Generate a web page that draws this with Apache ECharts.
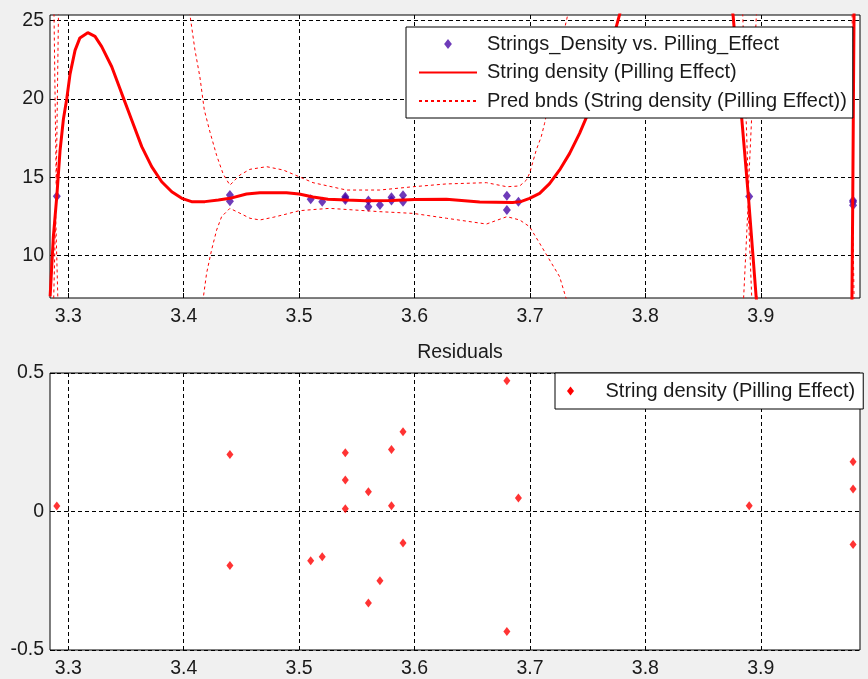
<!DOCTYPE html>
<html lang="en">
<head>
    <meta charset="UTF-8">
    <title>String density fit</title>
    <style>
        body {
            margin: 0;
            background-color: #f0f0f0;
        }

        #chart {
            width: 868px;
            height: 679px;
        }
    </style>
</head>
<body>

    <div id="chart"></div>

    <script src="https://cdn.jsdelivr.net/npm/echarts@6.0.0/dist/echarts.min.js"></script>
    <script>

        // tick positions
        const xTicks = [3.3, 3.4, 3.5, 3.6, 3.7, 3.8, 3.9];
        const yTicksFit = [10, 15, 20, 25];
        const yTicksRes = [-0.5, 0, 0.5];

        // measured data: Strings_Density vs. Pilling_Effect
        const dataX = [3.29, 3.44, 3.44, 3.51, 3.52, 3.54, 3.54, 3.54, 3.56, 3.56, 3.57,
            3.58, 3.58, 3.59, 3.59, 3.68, 3.68, 3.69, 3.89, 3.98, 3.98, 3.98];
        const dataY = [13.79, 13.87, 13.47, 13.6, 13.45, 13.76, 13.66, 13.56, 13.52, 13.12, 13.24,
            13.73, 13.53, 13.85, 13.45, 13.82, 12.92, 13.45, 13.77, 13.52, 13.42, 13.22];

        // residuals (same x as data)
        const residY = [0.02, 0.206, -0.195, -0.178, -0.163, 0.212, 0.114, 0.01, 0.071, -0.33, -0.25,
            0.224, 0.021, 0.288, -0.114, 0.472, -0.433, 0.049, 0.021, 0.18, 0.081, -0.119];

        // fitted curve (values beyond the axes are clipped)
        const fitX = [3.2842, 3.2870, 3.2900, 3.2928, 3.2957, 3.2986, 3.3015, 3.3058, 3.3100, 3.3168,
            3.3231, 3.3289, 3.3376, 3.3462, 3.3549, 3.3636, 3.3722, 3.3809, 3.3896, 3.3983,
            3.4068, 3.4184, 3.4300, 3.4400, 3.4544, 3.4660, 3.4890, 3.5000, 3.5120, 3.5250,
            3.5410, 3.5580, 3.5800, 3.6000, 3.6276, 3.6565, 3.6850, 3.6920, 3.6997, 3.7084,
            3.7170, 3.7257, 3.7344, 3.7430, 3.7517, 3.7600, 3.7700, 3.7777, 3.7900, 3.8000,
            3.8400, 3.8650, 3.8760, 3.8837, 3.8893, 3.8960, 3.9050, 3.9500, 3.9750, 3.9790,
            3.9797, 3.9803, 3.9810, 3.9870];
        const fitY = [7.4, 11.2, 13.8, 16.7, 18.7, 20.0, 21.6, 23.1, 23.9, 24.23,
            24.0, 23.34, 22.06, 20.36, 18.66, 16.96, 15.68, 14.72, 14.08, 13.66,
            13.45, 13.45, 13.55, 13.66, 13.94, 14.02, 14.02, 13.94, 13.75, 13.6,
            13.55, 13.5, 13.52, 13.58, 13.6, 13.42, 13.4, 13.45, 13.66, 13.98,
            14.6, 15.47, 16.53, 17.81, 19.3, 21.0, 23.3, 25.4, 29, 31,
            33, 30, 25.36, 18.6, 13.77, 7.38, 0, -5, 0, 7.0,
            13.4, 20, 27, 40];

        // prediction bounds
        const upperX = [3.2850, 3.2895, 3.2940, 3.3500, 3.4000, 3.4054, 3.4097, 3.4140, 3.4178, 3.4227,
            3.4285, 3.4342, 3.4400, 3.4487, 3.4573, 3.4718, 3.4861, 3.5000, 3.5120, 3.5410,
            3.5698, 3.5987, 3.6276, 3.6623, 3.6800, 3.6911, 3.6970, 3.6997, 3.7055, 3.7098,
            3.7127, 3.7200, 3.7270, 3.7327, 3.7400, 3.8000, 3.8800, 3.8844, 3.8893, 3.8962,
            3.9000, 3.9500, 3.9780, 3.9792, 3.9799, 3.9806, 3.9870];
        const upperY = [40, 14.5, 40, 50, 40, 25.36, 23.13, 21.4, 19.3, 17.9,
            16.4, 15.2, 14.5, 15.15, 15.51, 15.68, 15.47, 15.04, 14.66, 14.19,
            14.19, 14.4, 14.58, 14.66, 14.4, 14.45, 14.83, 15.26, 16.75, 17.6,
            18.45, 21.0, 23.5, 25.36, 29, 50, 32, 25.36, 14.3, 25.36,
            32, 50, 32, 25.36, 14.2, 25.36, 40];
        const lowerX = [3.2850, 3.2890, 3.2935, 3.3800, 3.4150, 3.4169, 3.4198, 3.4241, 3.4285, 3.4328,
            3.4400, 3.4487, 3.4573, 3.4660, 3.4775, 3.4891, 3.5000, 3.5150, 3.5265, 3.5698,
            3.5987, 3.6276, 3.6623, 3.6800, 3.6911, 3.6997, 3.7084, 3.7170, 3.7257, 3.7309,
            3.7400, 3.8000, 3.8830, 3.8890, 3.8940, 3.9300, 3.9780, 3.9797, 3.9815];
        const lowerY = [0, 12.6, 0, -10, 5, 7.3, 8.88, 10.36, 11.64, 12.49,
            13.02, 12.71, 12.39, 12.28, 12.45, 12.66, 12.87, 12.96, 13.02, 12.81,
            12.7, 12.39, 12.02, 12.49, 12.28, 11.85, 10.79, 9.73, 8.66, 7.38,
            5, -5, 4, 13.2, 4, -5, 4, 12.9, 4];

        const pairs = (xs, ys) => xs.map((x, i) => [x, ys[i]]);

        const fontFamily = '"Liberation Sans", Arial, sans-serif';
        const textColor = '#1a1a1a';
        const dataColor = '#4a0aa8';
        const boundsName = 'Pred bnds (String density (Pilling Effect))';
        const fitName = 'String density (Pilling Effect)';
        const dataName = 'Strings_Density vs. Pilling_Effect';

        // diamond marker, taller than wide
        const diamondIcon = 'path://M7,0L14,9L7,18L0,9Z';

        const chart = echarts.init(document.getElementById('chart'));

        const xAxisCommon = {
            type: 'value',
            min: 3.2841,
            max: 3.986,
            axisLine: { show: false },
            axisTick: {
                inside: true,
                length: 5,
                customValues: xTicks,
                lineStyle: { color: '#000' },
            },
            axisLabel: {
                customValues: xTicks,
                formatter: v => v.toFixed(1),
                color: textColor,
                fontSize: 19.5,
                fontFamily: fontFamily,
                margin: 9,
            },
            splitLine: {
                show: true,
                lineStyle: { color: '#000', type: [4, 3], width: 1 },
            },
        };

        const yAxisCommon = {
            type: 'value',
            axisLine: { show: false },
            axisTick: {
                inside: true,
                length: 5,
                lineStyle: { color: '#000' },
            },
            axisLabel: {
                color: textColor,
                fontSize: 19.5,
                fontFamily: fontFamily,
                margin: 6,
            },
            splitLine: {
                show: true,
                lineStyle: { color: '#000', type: [4, 3], width: 1 },
            },
        };

        const option = {
            animation: false,
            backgroundColor: '#f0f0f0',
            title: {
                text: 'Residuals',
                left: 455,
                top: 338,
                textAlign: 'center',
                textStyle: {
                    color: textColor,
                    fontSize: 19.5,
                    fontWeight: 'normal',
                    fontFamily: fontFamily,
                },
            },
            grid: [
                {
                    left: 50, right: 8, top: 15, height: 283,
                    show: true, backgroundColor: '#fff', borderColor: '#000', borderWidth: 1,
                },
                {
                    left: 50, right: 8, top: 373, height: 280,
                    show: true, backgroundColor: '#fff', borderColor: '#000', borderWidth: 1,
                },
            ],
            xAxis: [
                Object.assign({ gridIndex: 0 }, xAxisCommon),
                Object.assign({ gridIndex: 1 }, xAxisCommon),
            ],
            yAxis: [
                Object.assign({}, yAxisCommon, {
                    gridIndex: 0,
                    min: 7.3,
                    max: 25.36,
                    axisTick: Object.assign({}, yAxisCommon.axisTick, { customValues: yTicksFit }),
                    axisLabel: Object.assign({}, yAxisCommon.axisLabel, { customValues: yTicksFit }),
                }),
                Object.assign({}, yAxisCommon, {
                    gridIndex: 1,
                    min: -0.5,
                    max: 0.5,
                    axisTick: Object.assign({}, yAxisCommon.axisTick, { customValues: yTicksRes }),
                    axisLabel: Object.assign({}, yAxisCommon.axisLabel, {
                        customValues: yTicksRes,
                        formatter: v => String(Math.round(v * 10) / 10),
                    }),
                }),
            ],
            legend: [
                {
                    zlevel: 1,
                    z: 20,
                    left: 406,
                    top: 27,
                    orient: 'vertical',
                    itemWidth: 58,
                    itemHeight: 10,
                    itemGap: 8.5,
                    symbolKeepAspect: true,
                    padding: [7, 6, 7, 12],
                    backgroundColor: '#fff',
                    borderColor: '#000',
                    borderWidth: 1,
                    borderRadius: 0,
                    textStyle: {
                        color: textColor,
                        fontSize: 20,
                        lineHeight: 20,
                        fontFamily: fontFamily,
                        padding: [0, 0, 0, 5],
                    },
                    data: [
                        { name: dataName, icon: diamondIcon },
                        { name: fitName, itemStyle: { opacity: 0 } },
                        { name: boundsName, itemStyle: { opacity: 0 } },
                    ],
                },
                {
                    zlevel: 1,
                    z: 20,
                    left: 555,
                    top: 373,
                    orient: 'vertical',
                    itemWidth: 30,
                    itemHeight: 9,
                    symbolKeepAspect: true,
                    padding: [8, 8, 8, 12],
                    backgroundColor: '#fff',
                    borderColor: '#000',
                    borderWidth: 1,
                    borderRadius: 0,
                    textStyle: {
                        color: textColor,
                        fontSize: 20,
                        lineHeight: 19,
                        fontFamily: fontFamily,
                        padding: [0, 0, 0, 15],
                    },
                    data: [{ name: fitName, icon: diamondIcon, itemStyle: { color: '#ff0000', opacity: 1 } }],
                },
            ],
            series: [
                {
                    name: dataName,
                    type: 'scatter',
                    xAxisIndex: 0,
                    yAxisIndex: 0,
                    symbol: 'diamond',
                    symbolSize: [8, 10],
                    itemStyle: { color: dataColor },
                    data: pairs(dataX, dataY),
                    z: 2,
                },
                {
                    name: fitName,
                    type: 'line',
                    xAxisIndex: 0,
                    yAxisIndex: 0,
                    symbol: 'none',
                    clip: true,
                    lineStyle: { color: '#ff0000', width: 3 },
                    itemStyle: { color: '#ff0000' },
                    data: pairs(fitX, fitY),
                    z: 3,
                },
                {
                    name: boundsName,
                    type: 'line',
                    xAxisIndex: 0,
                    yAxisIndex: 0,
                    symbol: 'none',
                    clip: true,
                    lineStyle: { color: '#ff0000', width: 1, type: [3, 3] },
                    itemStyle: { color: '#ff0000' },
                    data: pairs(upperX, upperY),
                    z: 3,
                },
                {
                    name: boundsName,
                    type: 'line',
                    xAxisIndex: 0,
                    yAxisIndex: 0,
                    symbol: 'none',
                    clip: true,
                    lineStyle: { color: '#ff0000', width: 1, type: [3, 3] },
                    itemStyle: { color: '#ff0000' },
                    data: pairs(lowerX, lowerY),
                    z: 3,
                },
                {
                    name: fitName,
                    type: 'scatter',
                    xAxisIndex: 1,
                    yAxisIndex: 1,
                    symbol: 'diamond',
                    symbolSize: [7, 9],
                    itemStyle: { color: '#ff0000' },
                    data: pairs(dataX, residY),
                },
            ],
        };

        chart.setOption(option);

    </script>
</body>
</html>
